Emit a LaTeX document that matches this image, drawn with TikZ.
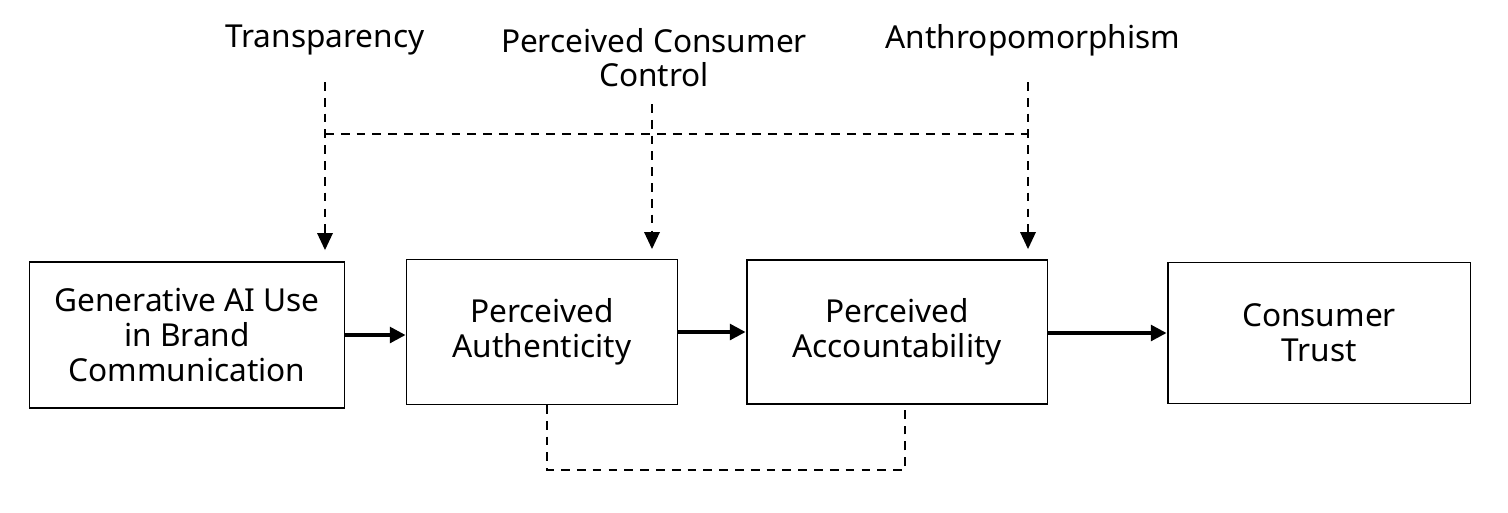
\documentclass[tikz,border=0pt]{standalone}
\usepackage{fontspec}
\setmainfont{Noto Sans}
\usetikzlibrary{positioning,arrows.meta}

\tikzset{
	box/.style={draw,line width=1.1pt,align=center,font=\fontsize{18}{20}\selectfont},
	label/.style={align=center,font=\fontsize{18}{19.5}\selectfont},
	flow/.style={-{Triangle[length=9pt,width=9pt]},line width=2pt},
	mod/.style={dashed,line width=1pt,dash pattern=on 5pt off 4pt},
}

\begin{document}
\begin{tikzpicture}[x=0.02cm,y=-0.02cm]
	\useasboundingbox (0,0) rectangle (1508,512);
	%
	\node[box,minimum width=6.3cm,minimum height=2.92cm] (gen) at (187,335) {Generative AI Use\\in Brand\\Communication};
	\node[box,minimum width=5.42cm,minimum height=2.9cm] (auth) at (542,332) {Perceived\\Authenticity};
	\node[box,minimum width=6.02cm,minimum height=2.88cm] (acc) at (897,332) {Perceived\\Accountability};
	\node[box,minimum width=6.06cm,minimum height=2.82cm] (trust) at (1319,333) {Consumer\\Trust};
	%
	\node[label] (trans) at (325,40) {Transparency};
	\node[label] (ctrl) at (654,58) {Perceived Consumer\\Control};
	\node[label] (anth) at (1033,40) {Anthropomorphism};
	%
	\coordinate (t1) at (325,82);
	\coordinate (t2) at (325,233);
	\coordinate (c1) at (652,104);
	\coordinate (c2) at (652,232);
	\coordinate (a1) at (1028,82);
	\coordinate (a2) at (1028,232);
	\coordinate (h1) at (325,134);
	\coordinate (h2) at (1028,134);
	\coordinate (b1) at (547,405);
	\coordinate (b2) at (547,470);
	\coordinate (b3) at (905,470);
	\coordinate (b4) at (905,404);
	%
	\draw[flow] (gen.east) -- (auth.west |- gen.east);
	\draw[flow] (auth.east) -- (acc.west);
	\draw[flow] (acc.east |- trust.west) -- (trust.west);
	%
	\draw[mod] (t1) -- (t2);
	\draw[mod] (c1) -- (c2);
	\draw[mod] (a1) -- (a2);
	\draw[mod] (h1) -- (h2);
	\draw[mod] (b1) -- (b2) -- (b3) -- (b4);
	\fill (t2) ++(-8,0) -- ++(16,0) -- ++(-8,17) -- cycle;
	\fill (c2) ++(-8,0) -- ++(16,0) -- ++(-8,17) -- cycle;
	\fill (a2) ++(-8,0) -- ++(16,0) -- ++(-8,17) -- cycle;
\end{tikzpicture}
\end{document}
